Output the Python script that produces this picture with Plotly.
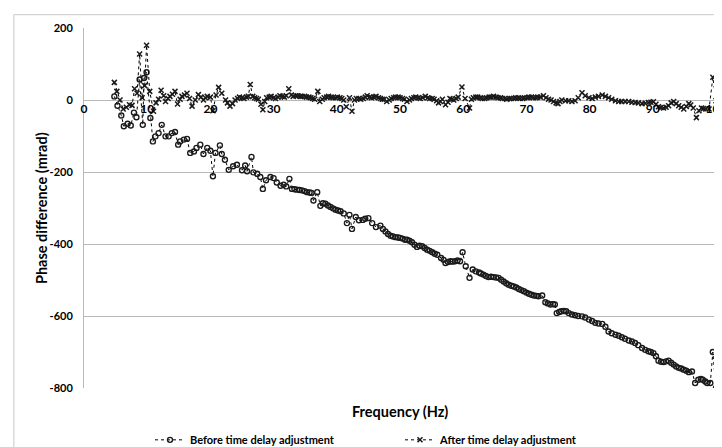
import plotly.graph_objects as go

# Frequency (Hz) / phase difference (mrad)
freq_before = [
    4.8, 5.3, 5.9, 6.3, 6.9, 7.4, 7.9, 8.3, 8.8, 9.3, 9.5, 9.9, 10.5, 10.9, 11.3,
    11.8, 12.3, 12.9, 13.4, 13.9, 14.4, 14.9, 15.2, 15.8, 16.3, 16.8, 17.4, 17.8,
    18.4, 18.9, 19.5, 20.0, 20.4, 20.8, 21.5, 21.8, 22.3, 22.9, 23.6, 24.2, 25.0,
    25.5, 25.8, 26.5, 26.8, 27.4, 27.9, 28.3, 28.8, 29.5, 30.0, 30.5, 31.1, 31.6,
    32.0, 32.5, 32.9, 33.3, 33.7, 34.1, 34.5, 34.9, 35.3, 35.7, 36.0, 36.3, 36.9,
    37.4, 37.8, 38.2, 38.6, 39.0, 39.4, 39.8, 40.2, 40.6, 41.1, 41.6, 42.0, 42.4,
    43.0, 43.5, 44.1, 44.5, 45.0, 45.6, 46.2, 46.9, 47.3, 47.7, 48.1, 48.5, 48.9,
    49.3, 49.7, 50.0, 50.4, 50.8, 51.1, 51.5, 51.9, 52.3, 52.7, 53.1, 53.5, 53.9,
    54.3, 54.7, 55.1, 55.5, 55.9, 56.5, 56.9, 57.2, 57.6, 58.0, 58.3, 58.7, 59.1,
    59.5, 59.9, 60.4, 61.0, 61.5, 62.0, 62.5, 62.8, 63.2, 63.6, 64.0, 64.4, 64.8,
    65.2, 65.6, 66.0, 66.4, 66.8, 67.2, 67.6, 68.0, 68.4, 68.8, 69.2, 69.6, 70.0,
    70.4, 70.8, 71.2, 71.6, 71.9, 72.5, 73.0, 73.4, 73.8, 74.2, 74.5, 74.8, 75.2,
    75.5, 75.9, 76.3, 76.7, 77.2, 77.7, 78.2, 78.8, 79.3, 79.9, 80.4, 80.9, 81.4,
    82.0, 82.5, 83.0, 83.5, 84.1, 84.6, 85.1, 85.6, 86.2, 86.7, 87.2, 87.7, 88.3,
    88.8, 89.3, 89.7, 90.1, 90.5, 90.9, 91.3, 91.7, 92.1, 92.5, 92.9, 93.3, 93.7,
    94.1, 94.5, 94.9, 95.3, 95.7, 96.2, 96.7, 97.2, 97.6, 97.9, 98.3, 98.6, 99.1,
    99.5, 100.0,
]
before = [
    10, -16, -43, -73, -66, -71, -35, -48, 57, -69, 61, 77, -50, -115, -101,
    -92, -69, -101, -101, -92, -89, -124, -115, -110, -108, -147, -143, -133,
    -124, -150, -133, -141, -212, -147, -126, -150, -166, -194, -184, -180, -195,
    -182, -198, -158, -201, -205, -214, -247, -223, -214, -217, -229, -238, -235,
    -240, -219, -247, -248, -249, -250, -251, -253, -256, -257, -258, -279, -256,
    -294, -287, -288, -293, -297, -301, -305, -307, -309, -315, -342, -319, -358,
    -325, -334, -333, -330, -328, -342, -353, -349, -358, -365, -372, -377, -379,
    -381, -382, -383, -385, -388, -388, -391, -395, -402, -408, -405, -406, -411,
    -416, -419, -423, -427, -430, -439, -444, -453, -450, -448, -449, -448, -446,
    -448, -423, -462, -494, -471, -476, -479, -482, -485, -489, -492, -491, -492,
    -493, -494, -499, -504, -509, -513, -516, -518, -521, -525, -528, -531, -535,
    -538, -541, -543, -544, -545, -543, -562, -565, -568, -567, -568, -592, -589,
    -587, -586, -587, -592, -596, -598, -600, -601, -604, -610, -614, -619, -621,
    -622, -630, -643, -648, -652, -655, -659, -663, -668, -671, -675, -681, -689,
    -694, -698, -700, -703, -712, -724, -727, -728, -726, -724, -730, -735, -740,
    -744, -746, -749, -752, -756, -754, -786, -777, -775, -777, -782, -786, -786,
    -700, -800,
]

freq_after = [
    4.8, 5.2, 5.7, 6.2, 6.7, 7.2, 7.6, 8.0, 8.4, 8.8, 9.2, 9.6, 9.9, 10.4, 11.0,
    11.4, 11.8, 12.2, 12.6, 12.9, 13.3, 13.6, 14.0, 14.4, 14.8, 15.2, 15.5, 15.9,
    16.3, 16.7, 17.1, 17.6, 18.1, 18.5, 18.9, 19.2, 19.5, 20.0, 20.4, 20.9, 21.3,
    21.8, 22.4, 22.7, 23.1, 23.5, 23.9, 24.3, 24.6, 25.0, 25.3, 25.7, 26.0, 26.3,
    26.7, 27.0, 27.3, 27.6, 28.0, 28.3, 28.6, 28.9, 29.3, 29.6, 30.0, 30.3, 30.7,
    31.0, 31.4, 31.7, 32.0, 32.4, 32.8, 33.1, 33.5, 33.8, 34.2, 34.5, 34.9, 35.2,
    35.6, 35.9, 36.2, 36.5, 37.0, 37.3, 37.7, 38.0, 38.4, 38.7, 39.1, 39.4, 39.8,
    40.1, 40.5, 40.8, 41.1, 41.5, 42.0, 42.4, 42.8, 43.1, 43.5, 43.8, 44.2, 44.5,
    44.8, 45.2, 45.5, 45.9, 46.2, 46.6, 46.9, 47.2, 47.5, 47.9, 48.3, 48.6, 49.0,
    49.3, 49.7, 50.0, 50.4, 50.7, 51.1, 51.5, 51.8, 52.2, 52.5, 52.9, 53.2, 53.6,
    54.0, 54.4, 54.7, 55.1, 55.4, 55.8, 56.1, 56.4, 56.7, 57.2, 57.6, 57.9, 58.2,
    58.5, 58.9, 59.2, 59.8, 60.3, 61.0, 61.3, 61.6, 62.0, 62.3, 62.7, 63.0, 63.4,
    63.7, 64.1, 64.4, 64.8, 65.2, 65.5, 65.9, 66.2, 66.6, 66.9, 67.3, 67.6, 68.0,
    68.3, 68.7, 69.0, 69.4, 69.7, 70.1, 70.4, 70.8, 71.1, 71.5, 71.8, 72.2, 72.7,
    73.1, 73.5, 73.9, 74.3, 74.7, 75.0, 75.3, 75.6, 76.2, 76.7, 77.2, 77.7, 78.2,
    78.8, 79.3, 79.9, 80.4, 80.9, 81.4, 82.0, 82.5, 83.0, 83.5, 84.1, 84.6, 85.1,
    85.6, 86.2, 86.7, 87.2, 87.7, 88.3, 88.8, 89.3, 89.7, 90.1, 90.5, 90.9, 91.3,
    91.7, 92.1, 92.5, 92.9, 93.3, 93.7, 94.1, 94.5, 94.9, 95.3, 95.7, 96.0, 96.4,
    96.9, 97.3, 97.7, 98.0, 98.4, 98.9, 99.5, 100.0,
]
after = [
    49, 24, 0, -25, -20, -13, -15, 31, 19, 128, 6, 40, 152, 24, -31,
    -8, 2, 27, 12, -4, 4, 10, 16, 24, -11, 2, 10, 14,
    19, 4, -17, 0, 15, 8, 0, 6, 10, 8, -30, 14, 35,
    19, 0, -8, -17, -10, 0, 4, 8, 6, 4, 8, 10, 43,
    10, 6, 4, 2, -12, -27, -4, 6, 8, 10, 6, 4, 8,
    12, 10, 8, 12, 31, 14, 10, 12, 12, 10, 10, 10, 8,
    8, 6, 4, 2, 24, -4, 2, 6, 8, 10, 8, 6, 6,
    8, 6, 4, 0, -19, 6, -31, 0, 4, 4, 2, 4, 8,
    12, 8, 6, 8, 10, 6, 4, 2, 2, -4, 0, 4, 6,
    8, 8, 6, 4, 2, -4, 0, 4, 6, 8, 6, 4, 6,
    10, 6, 4, 4, 2, -2, -8, -4, 2, -13, -6, 4, 2,
    0, 4, 8, 36, 4, -22, 2, 6, 8, 8, 6, 4, 4,
    6, 8, 8, 10, 8, 6, 6, 4, 4, 2, 4, 4, 4,
    6, 6, 4, 4, 6, 6, 8, 8, 6, 6, 8, 8, 12,
    6, 2, 0, -4, -8, -10, -4, 0, -2, -2, -4, -2, 6,
    20, 12, 6, 4, 8, 10, 14, 10, 6, 2, -2, -4, -4,
    -4, -4, -6, -7, -8, -10, -9, -7, -6, -5, -12, -19, -21,
    -22, -20, -16, -8, -4, -10, -16, -20, -25, -18, -10, -14, -22,
    -49, -30, -22, -24, -25, -25, 63, -2,
]

x_ticks = [0, 10, 20, 30, 40, 50, 60, 70, 80, 90, 100]
y_ticks = [200, 0, -200, -400, -600, -800]
y_labels = ['200', '0', '-200', '-400', '-600', '-800']

FONT = "Lato, 'Open Sans', sans-serif"

fig = go.Figure()

fig.add_trace(go.Scatter(
    x=freq_before, y=before,
    mode='lines+markers',
    name='Before time delay adjustment',
    line=dict(color='black', width=1, dash='dot'),
    marker=dict(symbol='circle-open', size=5, color='#1a1a1a', line=dict(width=1.4)),
))

fig.add_trace(go.Scatter(
    x=freq_after, y=after,
    mode='lines+markers',
    name='After time delay adjustment',
    line=dict(color='black', width=1, dash='dot'),
    marker=dict(symbol='x-thin-open', size=5, color='#1a1a1a', line=dict(width=1.5)),
))

# fixed margins, so the legend below the plot does not squeeze the axes
fig.update_layout(
    width=722, height=447,
    margin=dict(l=76, r=14, t=20, b=67, autoexpand=False),
    paper_bgcolor='white',
    plot_bgcolor='white',
    font=dict(family=FONT, size=11, color='black'),
    showlegend=True,
    legend=dict(
        orientation='h', x=0.5, xanchor='center', y=-0.144, yanchor='middle',
        font=dict(size=11, weight='bold'), itemwidth=30,
        entrywidth=205, entrywidthmode='pixels',
    ),
    xaxis=dict(
        range=[0, 100], tickvals=x_ticks, automargin=False,
        anchor='free', position=0.8,
        showgrid=False, showline=False, zeroline=False,
        ticks='', tickfont=dict(size=12, weight='bold'),
    ),
    yaxis=dict(
        range=[-800, 200], tickvals=y_ticks, ticktext=y_labels, automargin=False,
        showgrid=True, gridcolor='#b8b8b8', gridwidth=1,
        zeroline=True, zerolinecolor='#b8b8b8', zerolinewidth=1,
        showline=True, linecolor='#b8b8b8', linewidth=1,
        ticks='outside', ticklen=8, tickcolor='rgba(0,0,0,0)',
        tickfont=dict(size=11, weight='bold'),
    ),
    annotations=[
        dict(text='Frequency (Hz)', x=0.5, y=-0.064, xref='paper', yref='paper',
             showarrow=False, font=dict(size=14.5, weight='bold'), yanchor='middle'),
        dict(text='Phase difference (mrad)', x=-0.068, y=0.5, xref='paper', yref='paper',
             showarrow=False, textangle=-90, font=dict(size=14.5, weight='bold'),
             xanchor='center'),
    ],
    shapes=[
        dict(type='rect', xref='paper', yref='paper',
             x0=-0.111, x1=1.013, y0=-0.169, y1=1.037,
             line=dict(color='#c8c8c8', width=1)),
    ],
)

fig.write_html("out.html")
